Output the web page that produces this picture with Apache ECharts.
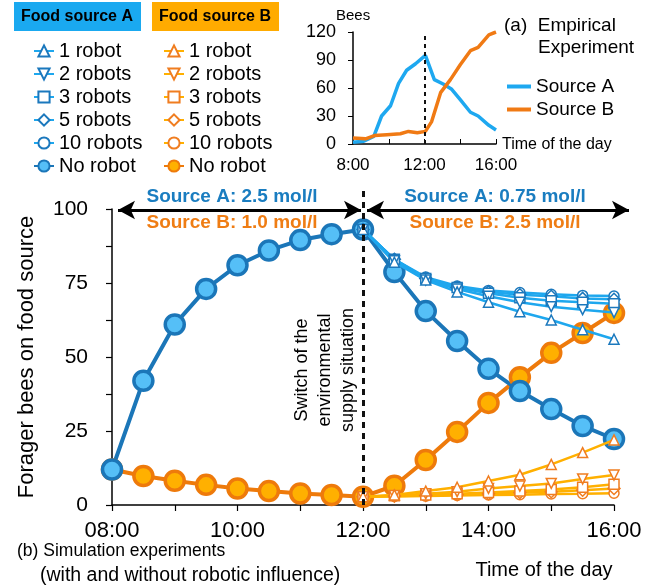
<!DOCTYPE html>
<html><head><meta charset="utf-8">
<script src="https://cdn.jsdelivr.net/npm/echarts@6/dist/echarts.min.js"></script>
<style>html,body{margin:0;padding:0;background:#fff}#c{width:650px;height:588px}</style>
</head><body><div id="c"></div>
<script>
// ---------- data ----------
const timesDay = [8, 8.5, 9, 9.5, 10, 10.5, 11, 11.5, 12, 12.5, 13, 13.5, 14, 14.5, 15, 15.5, 16];
const timesAfter = [12, 12.5, 13, 13.5, 14, 14.5, 15, 15.5, 16];
const noRobotA = [12, 42, 61, 73, 81, 86, 89.5, 91.5, 93.1, 78.7, 65.5, 55.4, 46, 38.5, 32.4, 26.7, 22.3];
const noRobotB = [12, 9.8, 8.2, 6.8, 5.6, 4.7, 3.9, 3.4, 2.8, 6.5, 15.2, 24.7, 34.5, 43.2, 51.4, 58.1, 64.9];
const robotA1 = [93.1, 82, 76, 72, 68.5, 65.3, 62.5, 59.2, 56];
const robotA2 = [93.1, 82.5, 76, 73, 70.5, 68.5, 67, 66, 65];
const robotA3 = [93.1, 83, 76.5, 73.5, 71.5, 70, 69, 68.5, 68];
const robotA5 = [93.1, 83, 76.5, 73.5, 72, 71, 70.5, 69.8, 69.5];
const robotA10 = [93.1, 83, 77, 74, 72.5, 71.8, 71.2, 70.8, 70.6];
const robotB1 = [2.8, 3.4, 4.7, 6, 8.1, 10.2, 13.7, 17.7, 22];
const robotB2 = [2.8, 3.2, 3.8, 4.5, 5.6, 6.4, 7.3, 8.8, 10.1];
const robotB3 = [2.8, 3.1, 3.4, 3.8, 4.2, 4.7, 5.2, 6, 7];
const robotB5 = [2.8, 3, 3.2, 3.5, 3.8, 4.2, 4.5, 5, 5.6];
const robotB10 = [2.8, 2.9, 3, 3.2, 3.4, 3.5, 3.7, 3.8, 4];
const robotLabels = ['1 robot', '2 robots', '3 robots', '5 robots', '10 robots', 'No robot'];
// inset (empirical experiment)
const empTimesA = [8, 8.6, 9.16, 9.6, 10.1, 10.55, 11.0, 11.5, 12.05, 12.55, 13.07, 13.5, 14.0, 14.57, 15.0, 15.6, 16];
const empA = [2, 3, 8, 30, 41, 65, 79, 86, 95, 69, 64, 59, 47.5, 34, 30, 20, 15];
const empTimesB = [8, 8.7, 9.2, 9.9, 10.65, 11.1, 11.6, 12.05, 12.4, 12.9, 13.45, 14.0, 14.57, 15.0, 15.6, 16];
const empB = [6.5, 5.5, 9, 10, 11, 13.5, 12, 13.5, 24, 55, 69, 85, 100, 103.5, 117, 120];
const mainTicks = ['08:00', '10:00', '12:00', '14:00', '16:00'];
const insetTicks = ['8:00', '12:00', '16:00'];

// ---------- styles ----------
const FONT = 'Liberation Sans, Arial, Helvetica, sans-serif';
const A_DARK = '#1b76b8', A_FILL = '#55bff7', A_LINE = '#1ea7ee', A_MK = '#1b78bd';
const B_DARK = '#ee7a0b', B_FILL = '#ffb000', B_LINE = '#ffb000', B_MK = '#f07d20';

function pairs(ts, vs) { return ts.map((t, i) => [t, vs[i]]); }

const symbols = [['triangle', 0], ['triangle', 180], ['rect', 0], ['diamond', 0], ['circle', 0]];
function robotSeries(name, vals, k, lineColor, mkColor) {
  return {
    name: name, type: 'line', xAxisIndex: 0, yAxisIndex: 0,
    data: pairs(timesAfter, vals),
    symbol: symbols[k][0], symbolRotate: symbols[k][1],
    symbolSize: k === 3 ? 12 : 10, showAllSymbol: true,
    color: mkColor,
    lineStyle: { color: lineColor, width: 2.5 },
    itemStyle: { color: '#fff', borderColor: mkColor, borderWidth: 1.5 },
    emphasis: { disabled: true }, animation: false, z: 3
  };
}
const aRobots = [robotA1, robotA2, robotA3, robotA5, robotA10];
const bRobots = [robotB1, robotB2, robotB3, robotB5, robotB10];
const namesA = robotLabels.map(l => l + ' ');   // unique names for source A
const namesB = robotLabels.map(l => l + '  ');  // unique names for source B

const series = [];
series.push({
  id: 'b0', name: namesB[5], type: 'line', data: pairs(timesDay, noRobotB),
  symbol: 'circle', symbolSize: 19, color: B_DARK,
  lineStyle: { color: B_DARK, width: 4 },
  itemStyle: { color: B_FILL, borderColor: B_DARK, borderWidth: 3.5 },
  animation: false, z: 2
});
series.push({
  id: 'a0', name: namesA[5], type: 'line', data: pairs(timesDay, noRobotA),
  symbol: 'circle', symbolSize: 19, color: A_DARK,
  lineStyle: { color: A_DARK, width: 4 },
  itemStyle: { color: A_FILL, borderColor: A_DARK, borderWidth: 3.5 },
  animation: false, z: 2
});
for (let k = 4; k >= 0; k--) series.push(robotSeries(namesB[k], bRobots[k], k, B_LINE, B_MK));
for (let k = 4; k >= 0; k--) series.push(robotSeries(namesA[k], aRobots[k], k, A_LINE, A_MK));
// inset
series.push({
  name: 'Source A', type: 'line', xAxisIndex: 1, yAxisIndex: 1, color: '#1ea8f0',
  data: pairs(empTimesA, empA), symbol: 'none',
  lineStyle: { color: '#1ea8f0', width: 3.5 }, animation: false, z: 3,
  markLine: {
    silent: true, symbol: ['none', 'none'], label: { show: false },
    lineStyle: { color: '#111', type: [4, 4], width: 2 },
    data: [[{ coord: [12, 0] }, { coord: [12, 120] }]]
  }
});
series.push({
  name: 'Source B', type: 'line', xAxisIndex: 1, yAxisIndex: 1, color: '#f07a14',
  data: pairs(empTimesB, empB), symbol: 'none',
  lineStyle: { color: '#f07a14', width: 3.5 }, animation: false, z: 3
});

const legendCommon = {
  orient: 'vertical', itemWidth: 20, itemHeight: 14, itemGap: 3,
  textStyle: { fontFamily: FONT, fontSize: 20, color: '#000', lineHeight: 20 },
  selectedMode: false
};

const option = {
  animation: false,
  textStyle: { fontFamily: FONT },
  grid: [
    { left: 112, right: 36, top: 209, bottom: 83, containLabel: false },
    { left: 353, top: 32, width: 143, height: 112, containLabel: false }
  ],
  xAxis: [
    {
      type: 'value', gridIndex: 0, min: 8, max: 16, interval: 1,
      axisLine: { lineStyle: { color: '#000', width: 1.5 } },
      axisTick: { show: true, length: 6, lineStyle: { color: '#000', width: 1.2 } },
      axisLabel: { fontSize: 22, color: '#000', margin: 15, fontFamily: FONT,
        formatter: v => (v % 2 === 0 ? mainTicks[(v - 8) / 2] : '') },
      splitLine: { show: false }
    },
    {
      type: 'value', gridIndex: 1, min: 8, max: 16, interval: 2,
      axisLine: { lineStyle: { color: '#000', width: 1.5 } },
      axisTick: { show: true, inside: true, length: 5, lineStyle: { color: '#000' } },
      axisLabel: { fontSize: 17, color: '#000', margin: 13, fontFamily: FONT,
        formatter: v => (v % 4 === 0 ? insetTicks[(v - 8) / 4] : '') },
      splitLine: { show: false }
    }
  ],
  yAxis: [
    {
      type: 'value', gridIndex: 0, min: 0, max: 100, interval: 12.5,
      name: 'Forager bees on food source', nameLocation: 'middle', nameGap: 74,
      nameTextStyle: { fontSize: 22, color: '#000', fontFamily: FONT },
      axisLine: { show: true, lineStyle: { color: '#000', width: 1.5 } },
      axisTick: { show: true, length: 6, lineStyle: { color: '#000', width: 1.2 } },
      axisLabel: { fontSize: 21, color: '#000', margin: 24, fontFamily: FONT,
        formatter: v => (v % 25 === 0 ? String(v) : '') },
      splitLine: { show: false }
    },
    {
      type: 'value', gridIndex: 1, min: 0, max: 120, interval: 30,
      axisLine: { show: true, lineStyle: { color: '#000', width: 1.5 } },
      axisTick: { show: true, length: 5, lineStyle: { color: '#000' } },
      axisLabel: { fontSize: 18, color: '#000', margin: 17, fontFamily: FONT },
      splitLine: { show: false }
    }
  ],
  legend: [
    Object.assign({}, legendCommon, { left: 28, top: 36, data: namesA, formatter: n => n.trim() }),
    Object.assign({}, legendCommon, { left: 158, top: 36, data: namesB, formatter: n => n.trim() }),
    { orient: 'vertical', left: 502, top: 72, itemWidth: 24, itemHeight: 4, itemGap: 4,
      icon: 'rect', selectedMode: false, data: ['Source A', 'Source B'],
      textStyle: { fontFamily: FONT, fontSize: 19, color: '#000' } }
  ],
  graphic: [
    { type: 'rect', left: 14, top: 2, shape: { width: 127, height: 29 }, style: { fill: '#1aa9f0' } },
    { type: 'rect', left: 152, top: 2, shape: { width: 127, height: 29 }, style: { fill: '#ffab00' } },
    { type: 'text', x: 77, y: 17, style: { text: 'Food source A', fontFamily: FONT, fontSize: 16, fontWeight: 'bold', fill: '#000', align: 'center', verticalAlign: 'middle' } },
    { type: 'text', x: 215, y: 17, style: { text: 'Food source B', fontFamily: FONT, fontSize: 16, fontWeight: 'bold', fill: '#000', align: 'center', verticalAlign: 'middle' } },
    { type: 'text', x: 336, y: 16, style: { text: 'Bees', fontFamily: FONT, fontSize: 15, fill: '#000', align: 'left', verticalAlign: 'middle' } },
    { type: 'text', x: 504, y: 26, style: { text: '(a)  Empirical', fontFamily: FONT, fontSize: 19, fill: '#000', align: 'left', verticalAlign: 'middle' } },
    { type: 'text', x: 538, y: 48, style: { text: 'Experiment', fontFamily: FONT, fontSize: 19, fill: '#000', align: 'left', verticalAlign: 'middle' } },
    { type: 'text', x: 502, y: 145, style: { text: 'Time of the day', fontFamily: FONT, fontSize: 16, fill: '#000', align: 'left', verticalAlign: 'middle' } },
    { type: 'text', x: 232, y: 197, style: { text: 'Source A: 2.5 mol/l', fontFamily: FONT, fontSize: 19, fontWeight: 'bold', fill: '#1a7dc0', align: 'center', verticalAlign: 'middle' } },
    { type: 'text', x: 232, y: 223, style: { text: 'Source B: 1.0 mol/l', fontFamily: FONT, fontSize: 19, fontWeight: 'bold', fill: '#ef7d14', align: 'center', verticalAlign: 'middle' } },
    { type: 'text', x: 495, y: 197, style: { text: 'Source A: 0.75 mol/l', fontFamily: FONT, fontSize: 19, fontWeight: 'bold', fill: '#1a7dc0', align: 'center', verticalAlign: 'middle' } },
    { type: 'text', x: 495, y: 223, style: { text: 'Source B: 2.5 mol/l', fontFamily: FONT, fontSize: 19, fontWeight: 'bold', fill: '#ef7d14', align: 'center', verticalAlign: 'middle' } },
    { type: 'text', x: 325, y: 370, rotation: Math.PI / 2, style: { text: 'Switch of the\nenvironmental\nsupply situation', fontFamily: FONT, fontSize: 18, lineHeight: 23, fill: '#000', align: 'center', verticalAlign: 'middle' } },
    { type: 'text', x: 544, y: 570, style: { text: 'Time of the day', fontFamily: FONT, fontSize: 20, fill: '#000', align: 'center', verticalAlign: 'middle' } },
    { type: 'text', x: 17, y: 551, style: { text: '(b) Simulation experiments', fontFamily: FONT, fontSize: 17.5, fill: '#000', align: 'left', verticalAlign: 'middle' } },
    { type: 'text', x: 40, y: 576, style: { text: '(with and without robotic influence)', fontFamily: FONT, fontSize: 19.5, fill: '#000', align: 'left', verticalAlign: 'middle' } }
  ],
  series: series
};
const chart = echarts.init(document.getElementById('c'), null, { renderer: 'canvas' });
chart.setOption(option);

// annotation lines positioned from the axis scale
const p0 = chart.convertToPixel({ gridIndex: 0 }, [12, 0]);
const pTop = chart.convertToPixel({ gridIndex: 0 }, [12, 100]);
const pL = chart.convertToPixel({ gridIndex: 0 }, [8, 100]);
const pR = chart.convertToPixel({ gridIndex: 0 }, [16, 100]);
chart.setOption({
  series: [
    { id: 'b0', markLine: {
      silent: true, symbol: ['none', 'none'], label: { show: false },
      lineStyle: { color: '#111', type: [6, 5], width: 3 },
      data: [[{ x: p0[0], y: p0[1] }, { x: pTop[0], y: pTop[1] - 18 }]]
    } },
    { id: 'a0', markLine: {
      silent: true, symbol: ['arrow', 'arrow'], symbolSize: [14, 17], label: { show: false },
      lineStyle: { color: '#000', type: 'solid', width: 3 },
      data: [
        [{ x: pL[0] + 6, y: pL[1] + 1 }, { x: pTop[0] - 2, y: pTop[1] + 1 }],
        [{ x: pTop[0] + 4, y: pTop[1] + 1 }, { x: pR[0] + 15, y: pR[1] + 1 }]
      ]
    } }
  ]
});
</script>
</body></html>
